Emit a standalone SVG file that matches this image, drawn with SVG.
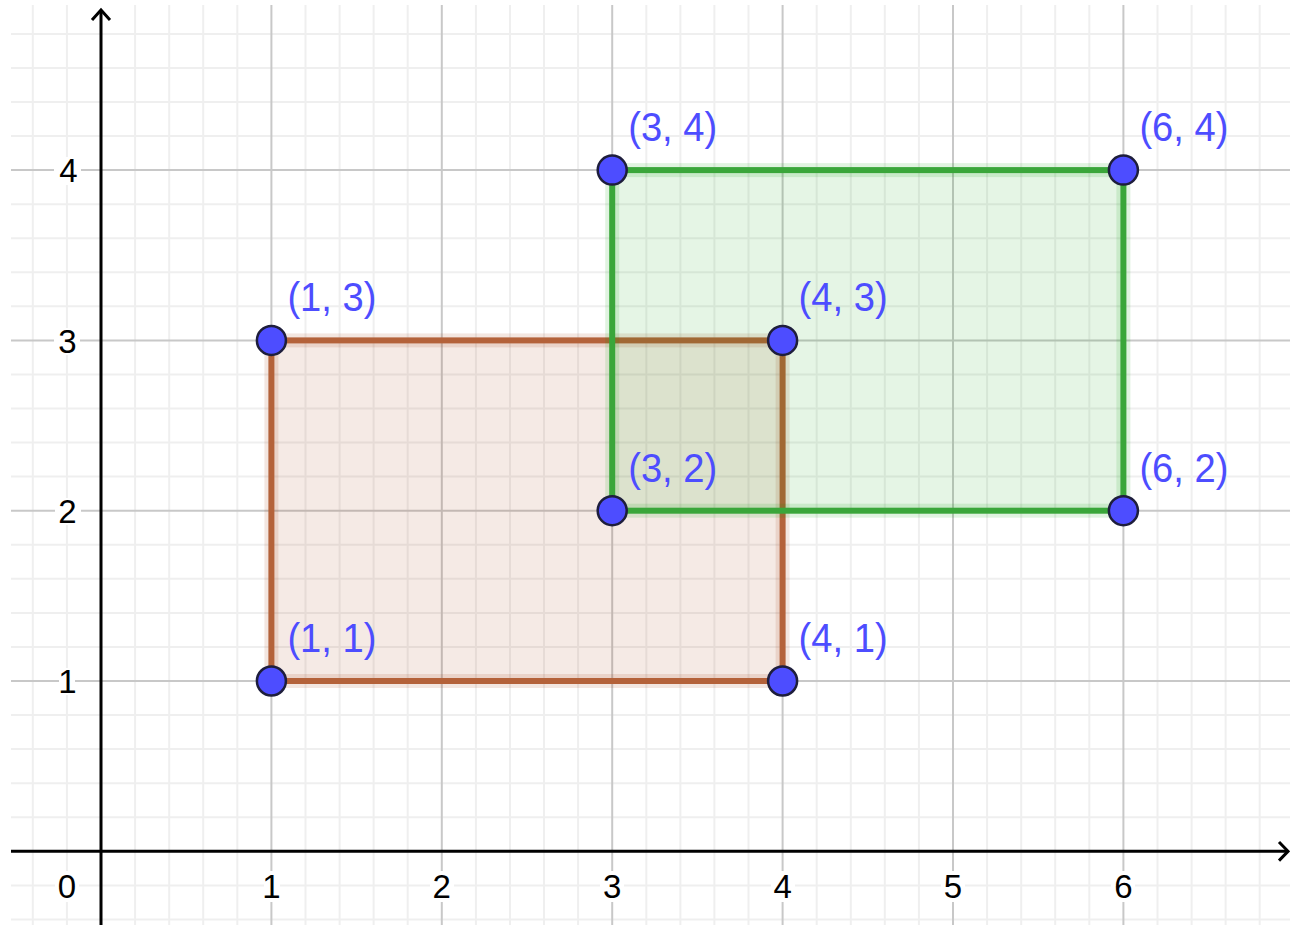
<svg xmlns="http://www.w3.org/2000/svg" width="1290" height="925" viewBox="0 0 1290 925">
<style>
.minor{stroke:#efefef;stroke-width:2}
.major{stroke:#c8c8c8;stroke-width:2}
.axis{stroke:#000;stroke-width:3;fill:none}
.alab{font-family:"Liberation Sans",Arial,sans-serif;font-size:33px;fill:#000;text-anchor:middle}
.plab{font-family:"Liberation Sans",Arial,sans-serif;font-size:41px;fill:#4d4dff}
.bg{fill:#fff}
.pt{fill:#4d4dff;stroke:#1e1e3c;stroke-width:2.5}
</style>
<rect width="1290" height="925" fill="#fff"/>
<g id="grid">
<g class="minor">
<line x1="32.8" y1="5" x2="32.8" y2="925"/><line x1="66.9" y1="5" x2="66.9" y2="925"/>
<line x1="135.1" y1="5" x2="135.1" y2="925"/><line x1="169.2" y1="5" x2="169.2" y2="925"/><line x1="203.2" y1="5" x2="203.2" y2="925"/><line x1="237.3" y1="5" x2="237.3" y2="925"/>
<line x1="305.5" y1="5" x2="305.5" y2="925"/><line x1="339.6" y1="5" x2="339.6" y2="925"/><line x1="373.6" y1="5" x2="373.6" y2="925"/><line x1="407.7" y1="5" x2="407.7" y2="925"/>
<line x1="475.9" y1="5" x2="475.9" y2="925"/><line x1="510" y1="5" x2="510" y2="925"/><line x1="544" y1="5" x2="544" y2="925"/><line x1="578.1" y1="5" x2="578.1" y2="925"/>
<line x1="646.3" y1="5" x2="646.3" y2="925"/><line x1="680.4" y1="5" x2="680.4" y2="925"/><line x1="714.4" y1="5" x2="714.4" y2="925"/><line x1="748.5" y1="5" x2="748.5" y2="925"/>
<line x1="816.7" y1="5" x2="816.7" y2="925"/><line x1="850.8" y1="5" x2="850.8" y2="925"/><line x1="884.8" y1="5" x2="884.8" y2="925"/><line x1="918.9" y1="5" x2="918.9" y2="925"/>
<line x1="987.1" y1="5" x2="987.1" y2="925"/><line x1="1021.2" y1="5" x2="1021.2" y2="925"/><line x1="1055.2" y1="5" x2="1055.2" y2="925"/><line x1="1089.3" y1="5" x2="1089.3" y2="925"/>
<line x1="1157.5" y1="5" x2="1157.5" y2="925"/><line x1="1191.6" y1="5" x2="1191.6" y2="925"/><line x1="1225.6" y1="5" x2="1225.6" y2="925"/><line x1="1259.7" y1="5" x2="1259.7" y2="925"/>
<line x1="11" y1="919.4" x2="1290" y2="919.4"/><line x1="11" y1="885.4" x2="1290" y2="885.4"/>
<line x1="11" y1="817.2" x2="1290" y2="817.2"/><line x1="11" y1="783.2" x2="1290" y2="783.2"/><line x1="11" y1="749.1" x2="1290" y2="749.1"/><line x1="11" y1="715.1" x2="1290" y2="715.1"/>
<line x1="11" y1="646.9" x2="1290" y2="646.9"/><line x1="11" y1="612.9" x2="1290" y2="612.9"/><line x1="11" y1="578.8" x2="1290" y2="578.8"/><line x1="11" y1="544.8" x2="1290" y2="544.8"/>
<line x1="11" y1="476.6" x2="1290" y2="476.6"/><line x1="11" y1="442.6" x2="1290" y2="442.6"/><line x1="11" y1="408.5" x2="1290" y2="408.5"/><line x1="11" y1="374.5" x2="1290" y2="374.5"/>
<line x1="11" y1="306.3" x2="1290" y2="306.3"/><line x1="11" y1="272.3" x2="1290" y2="272.3"/><line x1="11" y1="238.2" x2="1290" y2="238.2"/><line x1="11" y1="204.2" x2="1290" y2="204.2"/>
<line x1="11" y1="136" x2="1290" y2="136"/><line x1="11" y1="102" x2="1290" y2="102"/><line x1="11" y1="67.9" x2="1290" y2="67.9"/><line x1="11" y1="33.9" x2="1290" y2="33.9"/>
</g>
<g class="major">
<line x1="271.4" y1="5" x2="271.4" y2="925"/><line x1="441.8" y1="5" x2="441.8" y2="925"/><line x1="612.2" y1="5" x2="612.2" y2="925"/><line x1="782.6" y1="5" x2="782.6" y2="925"/><line x1="953" y1="5" x2="953" y2="925"/><line x1="1123.4" y1="5" x2="1123.4" y2="925"/>
<line x1="11" y1="681" x2="1290" y2="681"/><line x1="11" y1="510.7" x2="1290" y2="510.7"/><line x1="11" y1="340.4" x2="1290" y2="340.4"/><line x1="11" y1="170.1" x2="1290" y2="170.1"/>
</g>
</g>
<g id="axes">
<line class="axis" x1="101" y1="10" x2="101" y2="925"/>
<line class="axis" x1="11" y1="851.3" x2="1288" y2="851.3"/>
<polyline class="axis" points="92,20 101,10 110,20"/>
<polyline class="axis" points="1279,842 1288,851.3 1279,860.6"/>
<g id="axis-labels">
<rect class="bg" x="55" y="871" width="24" height="31"/><text class="alab" x="67" y="898">0</text>
<rect class="bg" x="264" y="871" width="16" height="31"/><text class="alab" x="271.4" y="898">1</text>
<rect class="bg" x="430" y="871" width="24" height="31"/><text class="alab" x="441.8" y="898">2</text>
<rect class="bg" x="600" y="871" width="24" height="31"/><text class="alab" x="612.2" y="898">3</text>
<rect class="bg" x="771" y="871" width="24" height="31"/><text class="alab" x="782.6" y="898">4</text>
<rect class="bg" x="941" y="871" width="24" height="31"/><text class="alab" x="953" y="898">5</text>
<rect class="bg" x="1111" y="871" width="24" height="31"/><text class="alab" x="1123.4" y="898">6</text>
<rect class="bg" x="59" y="668" width="16" height="27"/><text class="alab" x="67.5" y="693">1</text>
<rect class="bg" x="55" y="498" width="26" height="27"/><text class="alab" x="67.5" y="523">2</text>
<rect class="bg" x="54" y="328" width="26" height="27"/><text class="alab" x="67.5" y="352.5">3</text>
<rect class="bg" x="54" y="157" width="27" height="28"/><text class="alab" x="68.5" y="182">4</text>
</g>
</g>
<g id="rect-brown">
<rect x="271.4" y="340.4" width="511.2" height="340.6" fill="rgba(153,51,0,0.1)" stroke="rgba(153,51,0,0.12)" stroke-width="14"/>
<rect x="271.4" y="340.4" width="511.2" height="340.6" fill="none" stroke="#b4623a" stroke-width="6"/>
</g>
<g id="rect-green">
<rect x="612.2" y="170.1" width="511.2" height="340.6" fill="rgba(0,153,0,0.1)" stroke="rgba(0,153,0,0.12)" stroke-width="14"/>
<rect x="612.2" y="170.1" width="511.2" height="340.6" fill="none" stroke="#3aa63a" stroke-width="6"/>
</g>
<g id="points">
<g id="p11"><circle class="pt" cx="271.4" cy="681" r="14.5"/><text class="plab" x="287.4" y="652" textLength="89" lengthAdjust="spacingAndGlyphs">(1, 1)</text></g>
<g id="p13"><circle class="pt" cx="271.4" cy="340.4" r="14.5"/><text class="plab" x="287.4" y="311.4" textLength="89" lengthAdjust="spacingAndGlyphs">(1, 3)</text></g>
<g id="p32"><circle class="pt" cx="612.2" cy="510.7" r="14.5"/><text class="plab" x="628.2" y="481.7" textLength="89" lengthAdjust="spacingAndGlyphs">(3, 2)</text></g>
<g id="p34"><circle class="pt" cx="612.2" cy="170.1" r="14.5"/><text class="plab" x="628.2" y="141.1" textLength="89" lengthAdjust="spacingAndGlyphs">(3, 4)</text></g>
<g id="p41"><circle class="pt" cx="782.6" cy="681" r="14.5"/><text class="plab" x="798.6" y="652" textLength="89" lengthAdjust="spacingAndGlyphs">(4, 1)</text></g>
<g id="p43"><circle class="pt" cx="782.6" cy="340.4" r="14.5"/><text class="plab" x="798.6" y="311.4" textLength="89" lengthAdjust="spacingAndGlyphs">(4, 3)</text></g>
<g id="p62"><circle class="pt" cx="1123.4" cy="510.7" r="14.5"/><text class="plab" x="1139.4" y="481.7" textLength="89" lengthAdjust="spacingAndGlyphs">(6, 2)</text></g>
<g id="p64"><circle class="pt" cx="1123.4" cy="170.1" r="14.5"/><text class="plab" x="1139.4" y="141.1" textLength="89" lengthAdjust="spacingAndGlyphs">(6, 4)</text></g>
</g>
</svg>
